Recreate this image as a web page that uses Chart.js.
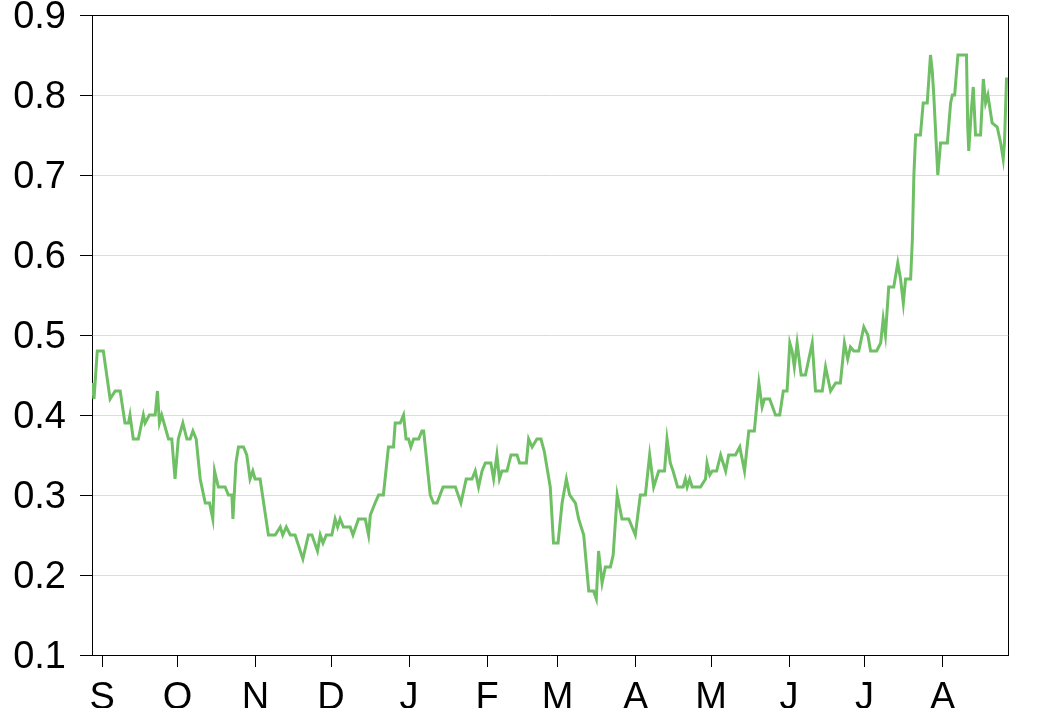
<!DOCTYPE html>
<html>
<head>
<meta charset="utf-8">
<script src="https://cdn.jsdelivr.net/npm/chart.js@4.4.1/dist/chart.umd.min.js"></script>
<style>
  html, body { margin: 0; padding: 0; background: #ffffff; }
  #wrap { width: 1040px; height: 708px; }
</style>
</head>
<body>
<div id="wrap"><canvas id="chart" width="1040" height="708"></canvas></div>
<script>
// Day index (0 = 1 Sep) and value
const dayIdx = [
  -4, -3.2, -1.9, 0.5, 3.2, 5.2, 7.2, 9.1, 10.5, 11.1, 12.4, 14.4, 16.4, 17.1, 18.8, 21.1,
  22.0, 22.8, 23.7, 26.4, 27.7, 29.0, 30.3, 32.1, 33.7, 35.0, 36.1, 37.4, 39.0, 41.0, 42.7,
  44.0, 44.7, 46.2, 48.9, 50.2, 51.6, 52.0, 53.2, 54.2, 56.2, 57.5, 58.8, 59.9, 60.8, 62.8,
  66.1, 68.8, 70.8, 71.8, 73.2, 74.8, 76.7, 79.8, 82.0, 83.4, 85.6, 86.7, 87.8, 89.1, 91.3,
  92.6, 93.6, 94.6, 95.9, 98.6, 99.7, 101.9, 104.6, 105.9, 106.6, 108.5, 109.9, 111.8, 113.8,
  115.8, 116.5, 118.5, 119.8, 120.8, 121.8, 122.7, 123.8, 125.8, 127.1, 127.8, 129.1, 130.4,
  131.7, 133.1, 135.5, 140.4, 142.6, 144.7, 147.0, 148.3, 149.6, 151.0, 152.3, 154.5, 155.6,
  156.9, 157.9, 158.9, 160.9, 162.5, 164.9, 165.9, 168.6, 169.5, 170.9, 172.8, 174.4, 175.7,
  178.1, 179.4, 181.2, 182.8, 184.5, 185.8, 188.1, 189.4, 191.4, 193.4, 195.3, 196.4, 197.3,
  198.7, 200.0, 202.0, 203.1, 204.7, 206.6, 209.3, 211.9, 213.9, 215.9, 217.6, 219.2, 221.2,
  223.5, 224.5, 225.8, 226.9, 228.7, 230.9, 231.8, 232.5, 233.5, 234.5, 237.8, 239.8, 240.4,
  241.5, 242.5, 244.2, 245.8, 247.8, 249.0, 251.7, 253.4, 255.3, 257.0, 259.2, 261.0, 262.3,
  263.2, 265.3, 267.6, 269.3, 270.7, 272.2, 273.3, 274.2, 275.1, 276.2, 277.8, 279.5, 282.2,
  283.5, 286.2, 287.5, 289.5, 291.5, 293.4, 295.0, 296.3, 297.4, 298.7, 300.7, 302.7, 304.3,
  305.4, 307.8, 309.4, 310.4, 311.3, 312.6, 314.6, 316.2, 317.3, 318.4, 319.3, 321.3, 322.0,
  322.6, 323.3, 325.2, 326.3, 327.9, 329.2, 329.9, 330.5, 332.1, 333.2, 335.9, 337.2, 337.9,
  338.8, 340.1, 343.5, 344.0, 344.4, 345.4, 346.2, 347.1, 349.1, 350.2, 351.1, 352.0, 353.7,
  355.7, 357.1, 358.1, 358.6, 359.4, 360.6
];
const values = [
  0.44, 0.42, 0.48, 0.48, 0.42, 0.43, 0.43, 0.39, 0.39, 0.40, 0.37, 0.37, 0.40, 0.39, 0.40, 0.40,
  0.43, 0.39, 0.40, 0.37, 0.37, 0.32, 0.37, 0.39, 0.37, 0.37, 0.38, 0.37, 0.32, 0.29, 0.29,
  0.27, 0.33, 0.31, 0.31, 0.30, 0.30, 0.27, 0.34, 0.36, 0.36, 0.35, 0.32, 0.33, 0.32, 0.32,
  0.25, 0.25, 0.26, 0.25, 0.26, 0.25, 0.25, 0.22, 0.25, 0.25, 0.23, 0.25, 0.24, 0.25, 0.25,
  0.27, 0.26, 0.27, 0.26, 0.26, 0.25, 0.27, 0.27, 0.25, 0.275, 0.29, 0.30, 0.30, 0.36,
  0.36, 0.39, 0.39, 0.40, 0.37, 0.37, 0.36, 0.37, 0.37, 0.38, 0.38, 0.34, 0.30,
  0.29, 0.29, 0.31, 0.31, 0.29, 0.32, 0.32, 0.33, 0.31, 0.33, 0.34, 0.34, 0.32,
  0.35, 0.32, 0.33, 0.33, 0.35, 0.35, 0.34, 0.34, 0.37, 0.36, 0.37, 0.37, 0.355,
  0.31, 0.24, 0.24, 0.29, 0.32, 0.30, 0.29, 0.27, 0.25, 0.18, 0.18, 0.17, 0.23,
  0.19, 0.21, 0.21, 0.225, 0.30, 0.27, 0.27, 0.25, 0.30, 0.30, 0.35, 0.31, 0.33,
  0.33, 0.37, 0.34, 0.33, 0.31, 0.31, 0.32, 0.31, 0.32, 0.31, 0.31, 0.32, 0.34,
  0.325, 0.33, 0.33, 0.35, 0.33, 0.35, 0.35, 0.36, 0.33, 0.38, 0.38, 0.44, 0.41,
  0.42, 0.42, 0.40, 0.40, 0.43, 0.43, 0.49, 0.48, 0.46, 0.49, 0.45, 0.45, 0.49,
  0.43, 0.43, 0.46, 0.43, 0.44, 0.44, 0.49, 0.47, 0.485, 0.48, 0.48, 0.51, 0.50,
  0.48, 0.48, 0.49, 0.52, 0.50, 0.56, 0.56, 0.59, 0.57, 0.54, 0.57, 0.57, 0.62,
  0.70, 0.75, 0.75, 0.79, 0.79, 0.85, 0.83, 0.80, 0.70, 0.74, 0.74, 0.79, 0.80,
  0.80, 0.85, 0.85, 0.76, 0.73, 0.78, 0.81, 0.75, 0.75, 0.82, 0.79, 0.80, 0.765,
  0.76, 0.74, 0.72, 0.74, 0.82, 0.82
];

// Month ticks
const monthStarts = [0, 30, 61, 91, 122, 153, 181, 212, 242, 273, 303, 334];
const monthLabels = ['S', 'O', 'N', 'D', 'J', 'F', 'M', 'A', 'M', 'J', 'J', 'A'];

const points = dayIdx.map((d, i) => ({ x: d, y: values[i] }));
const FONT = '"Liberation Sans", Arial, Helvetica, sans-serif';

// draws the top and right edges of the box
const frame = {
    id: 'frame',
    afterDatasetsDraw(chart) {
        const { ctx, chartArea: a } = chart;
        ctx.save();
        ctx.strokeStyle = '#000000';
        ctx.lineWidth = 1;
        ctx.beginPath();
        ctx.moveTo(a.left, Math.round(a.top) + 0.5);
        ctx.lineTo(Math.round(a.right) + 0.5, Math.round(a.top) + 0.5);
        ctx.lineTo(Math.round(a.right) + 0.5, a.bottom);
        ctx.stroke();
        ctx.restore();
    }
};

new Chart(document.getElementById('chart'), {
    type: 'line',
    data: {
        datasets: [{
            data: points,
            borderColor: '#6fbf64',
            borderWidth: 3,
            pointRadius: 0,
            tension: 0,
            fill: false
        }]
    },
    options: {
        responsive: false,
        animation: false,
        layout: { padding: { top: 15, right: 32, left: 0, bottom: 0 } },
        plugins: { legend: { display: false }, tooltip: { enabled: false } },
        scales: {
            x: {
                type: 'linear',
                min: -4,
                max: 360,
                afterBuildTicks: (scale) => {
                    scale.ticks = monthStarts.map(v => ({ value: v }));
                },
                afterFit: (scale) => {
                    scale.height = 53;
                    scale.paddingLeft = 0;
                    scale.paddingRight = 0;
                },
                grid: { drawOnChartArea: false, tickLength: 12, tickColor: '#000000' },
                border: { color: '#000000', width: 1 },
                ticks: {
                    autoSkip: false,
                    maxRotation: 0,
                    padding: 9,
                    color: '#000000',
                    font: { family: FONT, size: 38 },
                    callback: (v) => monthLabels[monthStarts.indexOf(v)]
                }
            },
            y: {
                min: 0.1,
                max: 0.9,
                afterFit: (scale) => {
                    scale.width = 92;
                    scale.paddingTop = 0;
                    scale.paddingBottom = 0;
                },
                grid: { color: '#dcdcdc', lineWidth: 1, tickLength: 12, tickColor: '#000000' },
                border: { color: '#000000', width: 1 },
                ticks: {
                    stepSize: 0.1,
                    padding: 14,
                    labelOffset: 3,
                    color: '#000000',
                    font: { family: FONT, size: 38 },
                    callback: (v) => Number(v).toFixed(1)
                }
            }
        }
    },
    plugins: [frame]
});
</script>
</body>
</html>
